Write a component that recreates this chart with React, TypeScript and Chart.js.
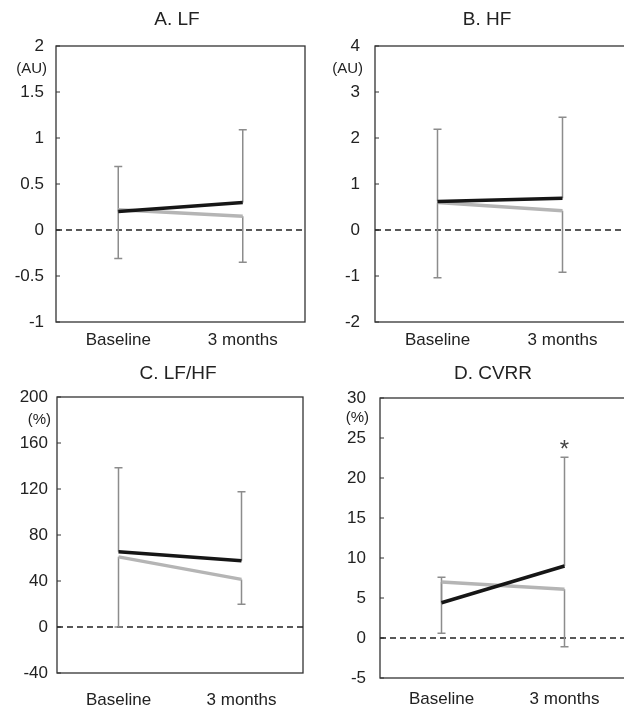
import React, { useEffect, useRef } from "react";
import { Chart, registerables } from "chart.js";

Chart.register(...registerables);

// ---------- data ----------
const categories = ["Baseline", "3 months"];
const titles = ["A. LF", "B. HF", "C. LF/HF", "D. CVRR"];
const units = ["(AU)", "(AU)", "(%)", "(%)"];

const lfBlack = [0.2, 0.3];
const lfBlackUpper = [0.69, 1.09];
const lfGray = [0.22, 0.15];
const lfGrayLower = [-0.31, -0.35];
const lfTicks = [-1, -0.5, 0, 0.5, 1, 1.5, 2];
const lfSignificant = [false, false];

const hfBlack = [0.62, 0.69];
const hfBlackUpper = [2.19, 2.45];
const hfGray = [0.6, 0.42];
const hfGrayLower = [-1.04, -0.92];
const hfTicks = [-2, -1, 0, 1, 2, 3, 4];
const hfSignificant = [false, false];

const ratioBlack = [65.5, 57.7];
const ratioBlackUpper = [138.5, 117.7];
const ratioGray = [61, 41.4];
const ratioGrayLower = [0, 19.7];
const ratioTicks = [-40, 0, 40, 80, 120, 160, 200];
const ratioSignificant = [false, false];

const cvrrBlack = [4.4, 9.0];
const cvrrBlackUpper = [7.6, 22.6];
const cvrrGray = [7.0, 6.1];
const cvrrGrayLower = [0.6, -1.1];
const cvrrTicks = [-5, 0, 5, 10, 15, 20, 25, 30];
const cvrrSignificant = [false, true];

// ---------- layout ----------
const FONT = '"Liberation Sans", Arial, Helvetica, sans-serif';
const TEXT = "#222";

type PanelCfg = {
  title: string;
  unit: string;
  black: number[];
  blackUpper: number[];
  gray: number[];
  grayLower: number[];
  ticks: number[];
  sig: boolean[];
  x: number;
  y: number;
  w: number;
  h: number;
  area: { left: number; right: number; top: number; bottom: number };
  titleX: number;
  titleY: number;
  yPad: number;
  xPad: number;
};

const panels: PanelCfg[] = [
  {
    title: titles[0], unit: units[0], black: lfBlack, blackUpper: lfBlackUpper, gray: lfGray, grayLower: lfGrayLower,
    ticks: lfTicks, sig: lfSignificant,
    x: 0, y: 0, w: 312, h: 350, area: { left: 56, right: 305, top: 46, bottom: 322 },
    titleX: 177, titleY: 20, yPad: 12, xPad: 8,
  },
  {
    title: titles[1], unit: units[1], black: hfBlack, blackUpper: hfBlackUpper, gray: hfGray, grayLower: hfGrayLower,
    ticks: hfTicks, sig: hfSignificant,
    x: 312, y: 0, w: 320, h: 350, area: { left: 63, right: 313, top: 46, bottom: 322 },
    titleX: 175, titleY: 20, yPad: 15, xPad: 8,
  },
  {
    title: titles[2], unit: units[2], black: ratioBlack, blackUpper: ratioBlackUpper, gray: ratioGray, grayLower: ratioGrayLower,
    ticks: ratioTicks, sig: ratioSignificant,
    x: 0, y: 350, w: 312, h: 360, area: { left: 57, right: 303, top: 47, bottom: 323 },
    titleX: 178, titleY: 24, yPad: 9, xPad: 17,
  },
  {
    title: titles[3], unit: units[3], black: cvrrBlack, blackUpper: cvrrBlackUpper, gray: cvrrGray, grayLower: cvrrGrayLower,
    ticks: cvrrTicks, sig: cvrrSignificant,
    x: 312, y: 350, w: 320, h: 360, area: { left: 68, right: 314, top: 48, bottom: 328 },
    titleX: 181, titleY: 24, yPad: 14, xPad: 11,
  },
];

function Panel({ cfg }: { cfg: PanelCfg }) {
  const ref = useRef<HTMLCanvasElement>(null);

  useEffect(() => {
    const canvas = ref.current!;
    const overlay = {
      id: "overlay",
      beforeDatasetsDraw(chart: any) {
        const { ctx, chartArea: a } = chart;
        const xs = chart.scales.x;
        const ys = chart.scales.y;
        ctx.save();
        // frame
        ctx.strokeStyle = "#333";
        ctx.lineWidth = 1.3;
        ctx.setLineDash([]);
        ctx.strokeRect(a.left, a.top, a.right - a.left, a.bottom - a.top);
        // inward tick marks
        ctx.lineWidth = 1;
        cfg.ticks.forEach((v) => {
          const py = ys.getPixelForValue(v);
          ctx.beginPath();
          ctx.moveTo(a.left, py);
          ctx.lineTo(a.left + 4, py);
          ctx.stroke();
        });
        // zero line
        const y0 = ys.getPixelForValue(0);
        ctx.setLineDash([6, 4]);
        ctx.lineWidth = 1.3;
        ctx.strokeStyle = "#222";
        ctx.beginPath();
        ctx.moveTo(a.left, y0);
        ctx.lineTo(a.right, y0);
        ctx.stroke();
        ctx.setLineDash([]);
        // error bars
        ctx.strokeStyle = "#8c8c8c";
        ctx.lineWidth = 1.5;
        const bar = (i: number, from: number, to: number) => {
          const px = xs.getPixelForValue(i);
          const p0 = ys.getPixelForValue(from);
          const p1 = ys.getPixelForValue(to);
          ctx.beginPath();
          ctx.moveTo(px, p0);
          ctx.lineTo(px, p1);
          ctx.moveTo(px - 4, p1);
          ctx.lineTo(px + 4, p1);
          ctx.stroke();
        };
        categories.forEach((_, i) => {
          bar(i, cfg.black[i], cfg.blackUpper[i]);
          bar(i, cfg.gray[i], cfg.grayLower[i]);
        });
        ctx.restore();
      },
      afterDraw(chart: any) {
        const { ctx, chartArea: a } = chart;
        const xs = chart.scales.x;
        const ys = chart.scales.y;
        ctx.save();
        ctx.fillStyle = TEXT;
        ctx.textAlign = "center";
        ctx.textBaseline = "middle";
        ctx.font = `19px ${FONT}`;
        ctx.fillText(cfg.title, cfg.titleX, cfg.titleY);
        // unit
        const n = cfg.ticks.length;
        const uy = (ys.getPixelForValue(cfg.ticks[n - 1]) + ys.getPixelForValue(cfg.ticks[n - 2])) / 2;
        ctx.font = `15px ${FONT}`;
        ctx.textAlign = "right";
        ctx.fillText(cfg.unit, a.left - cfg.yPad + 3, uy);
        // significance markers
        ctx.font = `24px ${FONT}`;
        ctx.textAlign = "center";
        ctx.textBaseline = "alphabetic";
        ctx.fillStyle = "#444";
        cfg.sig.forEach((s, i) => {
          if (!s) return;
          const px = xs.getPixelForValue(i);
          const py = ys.getPixelForValue(cfg.blackUpper[i]) - 0;
          ctx.fillText("*", px, py);
        });
        ctx.restore();
      },
    };

    const chart = new Chart(canvas, {
      type: "line",
      data: {
        labels: categories,
        datasets: [
          {
            data: cfg.gray,
            borderColor: "#b5b5b5",
            borderWidth: 3.5,
            pointRadius: 0,
            tension: 0,
            fill: false,
            order: 2,
          },
          {
            data: cfg.black,
            borderColor: "#161616",
            borderWidth: 3.5,
            pointRadius: 0,
            tension: 0,
            fill: false,
            order: 1,
          },
        ],
      },
      options: {
        responsive: false,
        animation: false,
        events: [],
        layout: {
          padding: {
            top: cfg.area.top,
            right: cfg.w - cfg.area.right,
            left: 0,
            bottom: 0,
          },
        },
        plugins: {
          legend: { display: false },
          title: { display: false },
          tooltip: { enabled: false },
        },
        scales: {
          x: {
            type: "category",
            offset: true,
            grid: { display: false, drawTicks: false },
            border: { display: false },
            ticks: {
              color: TEXT,
              font: { family: FONT, size: 17 },
              padding: cfg.xPad,
              maxRotation: 0,
              autoSkip: false,
            },
            afterFit: (s: any) => {
              s.height = cfg.h - cfg.area.bottom;
            },
          },
          y: {
            type: "linear",
            min: cfg.ticks[0],
            max: cfg.ticks[cfg.ticks.length - 1],
            grid: { display: false, drawTicks: false },
            border: { display: false },
            ticks: {
              color: TEXT,
              font: { family: FONT, size: 17 },
              padding: cfg.yPad,
              callback: (v: any) => String(v),
            },
            afterBuildTicks: (s: any) => {
              s.ticks = cfg.ticks.map((v) => ({ value: v }));
            },
            afterFit: (s: any) => {
              s.width = cfg.area.left;
            },
          },
        },
      },
      plugins: [overlay],
    } as any);
    return () => chart.destroy();
  }, [cfg]);

  return (
    <canvas
      ref={ref}
      width={cfg.w}
      height={cfg.h}
      style={{ position: "absolute", left: cfg.x, top: cfg.y, width: cfg.w, height: cfg.h }}
    />
  );
}

export default function App() {
  return (
    <div
      style={{
        position: "absolute",
        left: 0,
        top: 0,
        width: 624,
        height: 710,
        overflow: "hidden",
        background: "#fff",
      }}
    >
      {panels.map((p, i) => (
        <Panel key={i} cfg={p} />
      ))}
    </div>
  );
}
